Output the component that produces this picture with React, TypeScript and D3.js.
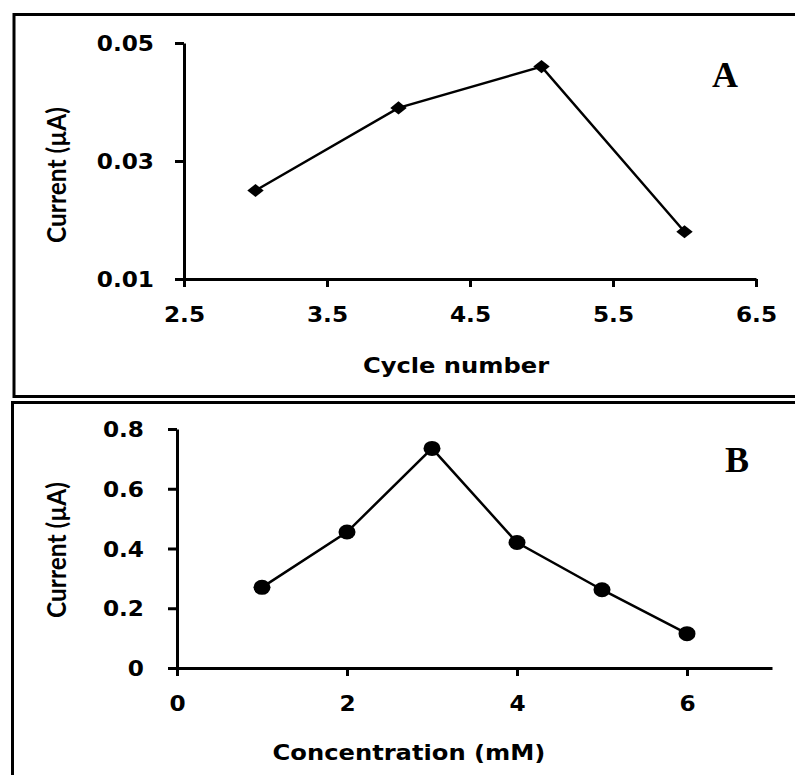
import React, { useEffect, useRef } from "react";
import * as d3 from "d3";

// Panel A: current vs. cycle number
const cyclesA = [3, 4, 5, 6];
const currentA = [0.025, 0.039, 0.046, 0.018];
const xTicksA = [2.5, 3.5, 4.5, 5.5, 6.5];
const yTicksA = [0.01, 0.03, 0.05];

// Panel B: current vs. concentration
const concB = [1, 2, 3, 4, 5, 6];
const currentB = [0.27, 0.455, 0.735, 0.42, 0.262, 0.115];
const xTicksB = [0, 2, 4, 6];
const yTicksB = [0, 0.2, 0.4, 0.6, 0.8];

const TICK_FONT = "'DejaVu Sans', Verdana, sans-serif";
const SX = 1.08; // the original lettering is a bit wider than DejaVu

const App = () => {
  const svgRef = useRef<SVGSVGElement>(null);

  useEffect(() => {
    const svg = d3.select(svgRef.current);
    svg.selectAll("*").remove();

    // panel frames
    svg
      .append("rect")
      .attr("x", 14)
      .attr("y", 14.5)
      .attr("width", 820)
      .attr("height", 382)
      .attr("fill", "none")
      .attr("stroke", "#000")
      .attr("stroke-width", 3);
    svg
      .append("rect")
      .attr("x", 12.5)
      .attr("y", 402.5)
      .attr("width", 820)
      .attr("height", 420)
      .attr("fill", "none")
      .attr("stroke", "#000")
      .attr("stroke-width", 3);

    const drawPanel = (opts) => {
      const {
        xs,
        ys,
        xDomain,
        yDomain,
        xRange,
        yRange,
        xTicks,
        yTicks,
        xFmt,
        yFmt,
        yLabelOffset,
        marker,
        xTitle,
        xTitleX,
        xTitleY,
        yTitleY,
        letter,
        letterX,
        letterY,
      } = opts;

      const x = d3.scaleLinear().domain(xDomain).range(xRange);
      const y = d3.scaleLinear().domain(yDomain).range(yRange);
      const g = svg.append("g");

      const xAxis = g
        .append("g")
        .attr("transform", `translate(0,${yRange[0]})`)
        .call(
          d3
            .axisBottom(x)
            .tickValues(xTicks)
            .tickFormat(xFmt)
            .tickSize(8)
            .tickSizeOuter(0)
        );
      const yAxis = g
        .append("g")
        .attr("transform", `translate(${xRange[0]},0)`)
        .call(
          d3
            .axisLeft(y)
            .tickValues(yTicks)
            .tickFormat(yFmt)
            .tickSize(9)
            .tickSizeOuter(0)
        );

      [xAxis, yAxis].forEach((a) => {
        a.select(".domain").attr("stroke-width", 3);
        a.selectAll(".tick line").attr("stroke-width", 3);
        a.selectAll("text")
          .attr("fill", "#000")
          .style("font-family", TICK_FONT)
          .style("font-weight", "bold")
          .style("font-size", "21.5px");
      });
      xAxis
        .selectAll("text")
        .attr("y", null)
        .attr("dy", null)
        .attr("transform", `translate(0,42.5) scale(${SX},1)`);
      yAxis
        .selectAll("text")
        .attr("x", null)
        .attr("dy", "0.36em")
        .attr("text-anchor", "end")
        .attr("transform", `translate(${-yLabelOffset},0) scale(${SX},1)`);

      const pts = xs.map((v, i) => [x(v), y(ys[i])]);
      g.append("path")
        .attr("d", d3.line()(pts))
        .attr("fill", "none")
        .attr("stroke", "#000")
        .attr("stroke-width", 2.5);

      if (marker === "diamond") {
        g.selectAll(".pt")
          .data(pts)
          .join("path")
          .attr("d", d3.symbol(d3.symbolSquare, 135)())
          .attr("transform", (d) => `translate(${d[0]},${d[1]}) scale(1,0.8) rotate(45)`)
          .attr("fill", "#000");
      } else {
        g.selectAll(".pt")
          .data(pts)
          .join("ellipse")
          .attr("cx", (d) => d[0])
          .attr("cy", (d) => d[1])
          .attr("rx", 8.5)
          .attr("ry", 7.5)
          .attr("fill", "#000");
      }

      g.append("text")
        .attr("transform", `translate(${xTitleX},${xTitleY}) scale(1.1,1)`)
        .attr("text-anchor", "middle")
        .style("font-family", TICK_FONT)
        .style("font-weight", "bold")
        .style("font-size", "22px")
        .text(xTitle);

      g.append("text")
        .attr("transform", `translate(66,${yTitleY}) rotate(-90)`)
        .attr("text-anchor", "middle")
        .attr("textLength", 136)
        .attr("lengthAdjust", "spacingAndGlyphs")
        .style("font-family", "Lato, 'Open Sans', sans-serif")
        .style("font-weight", "bold")
        .style("font-size", "26px")
        .text("Current (µA)");

      g.append("text")
        .attr("x", letterX)
        .attr("y", letterY)
        .attr("text-anchor", "middle")
        .style("font-family", "'Liberation Serif', 'Times New Roman', serif")
        .style("font-weight", "bold")
        .style("font-size", "36px")
        .text(letter);
    };

    drawPanel({
      xs: cyclesA,
      ys: currentA,
      xDomain: [2.5, 6.5],
      yDomain: [0.01, 0.05],
      xRange: [184, 756],
      yRange: [279, 43],
      xTicks: xTicksA,
      yTicks: yTicksA,
      xFmt: d3.format(".1f"),
      yFmt: d3.format(".2f"),
      yLabelOffset: 30,
      marker: "diamond",
      xTitle: "Cycle number",
      xTitleX: 456,
      xTitleY: 373,
      yTitleY: 175,
      letter: "A",
      letterX: 725,
      letterY: 87,
    });

    drawPanel({
      xs: concB,
      ys: currentB,
      xDomain: [0, 7],
      yDomain: [0, 0.8],
      xRange: [177, 772],
      yRange: [668, 429],
      xTicks: xTicksB,
      yTicks: yTicksB,
      xFmt: d3.format("d"),
      yFmt: (d) => (d === 0 ? "0" : d3.format(".1f")(d)),
      yLabelOffset: 33,
      marker: "circle",
      xTitle: "Concentration (mM)",
      xTitleX: 409,
      xTitleY: 760,
      yTitleY: 550,
      letter: "B",
      letterX: 737,
      letterY: 472,
    });
  }, []);

  return (
    <svg
      ref={svgRef}
      width={795}
      height={775}
      style={{ position: "absolute", left: 0, top: 0, background: "#fff" }}
    ></svg>
  );
};

export default App;
